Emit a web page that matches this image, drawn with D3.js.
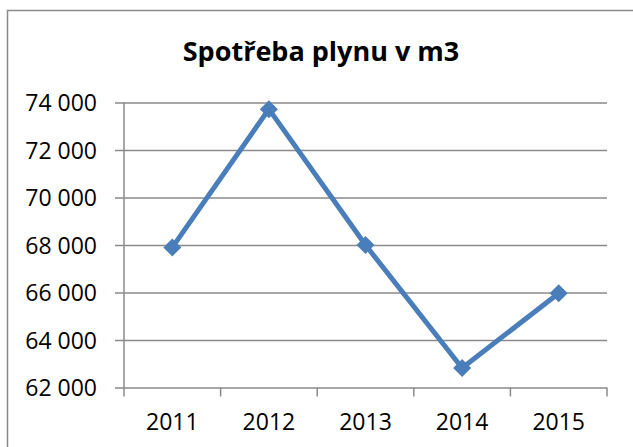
<!DOCTYPE html>
<html lang="cs">
<head>
  <meta charset="UTF-8">
  <title>Spotřeba plynu v m3</title>
  <script src="https://d3js.org/d3.v7.min.js"></script>
  <style>
    body { margin: 0; padding: 0; overflow: hidden; background: #fff; }
    text { font-family: "Open Sans", sans-serif; fill: #000; }
  </style>
</head>
<body>
  <svg id="chart" width="633" height="447"></svg>

  <script>
    // Data
    const years = ["2011", "2012", "2013", "2014", "2015"];
    const consumption = [67900, 73720, 68000, 62820, 65970];
    const yTicks = [62000, 64000, 66000, 68000, 70000, 72000, 74000];
    const title = "Spotřeba plynu v m3";

    const svg = d3.select("#chart");
    const plot = { left: 124, right: 607, top: 102.5, bottom: 387.5 };
    const gridColor = "#8a8a8a";
    const lineColor = "#4a7ebb";

    // Chart frame (only left and top edges are visible in the crop)
    svg.append("rect")
      .attr("x", 7.5).attr("y", 10.5)
      .attr("width", 700).attr("height", 500)
      .attr("fill", "none")
      .attr("stroke", gridColor)
      .attr("stroke-width", 1.5);

    // Scales
    const x = d3.scaleBand().domain(years).range([plot.left, plot.right]).padding(0);
    const y = d3.scaleLinear().domain([62000, 74000]).range([plot.bottom, plot.top]);

    const fmt = d3.formatLocale({ decimal: ",", thousands: "\u00a0", grouping: [3], currency: ["", " Kč"] }).format(",d");

    // Gridlines + y axis
    const yAxis = svg.append("g")
      .attr("transform", `translate(${plot.left},0)`)
      .call(d3.axisLeft(y).tickValues(yTicks).tickSize(0).tickFormat(fmt));
    yAxis.select(".domain").remove();
    yAxis.selectAll(".tick line").remove();
    yAxis.selectAll(".tick").append("line")
      .attr("x1", -9).attr("x2", plot.right - plot.left)
      .attr("stroke", gridColor).attr("stroke-width", 1.5);
    yAxis.selectAll(".tick text")
      .attr("x", -27)
      .attr("dy", "0.36em")
      .style("font-size", "23px")
      .style("font-family", "'Open Sans', sans-serif")
      .attr("fill", "#000");

    // Vertical axis line
    svg.append("line")
      .attr("x1", plot.left).attr("x2", plot.left)
      .attr("y1", plot.top).attr("y2", plot.bottom + 9)
      .attr("stroke", gridColor).attr("stroke-width", 1.5);

    // Category axis: ticks between categories
    const edges = years.map(d => x(d)).concat([x(years[years.length - 1]) + x.bandwidth()]);
    svg.append("g").selectAll("line")
      .data(edges.slice(1))
      .join("line")
      .attr("x1", d => d).attr("x2", d => d)
      .attr("y1", plot.bottom).attr("y2", plot.bottom + 9)
      .attr("stroke", gridColor).attr("stroke-width", 1.5);

    svg.append("g").selectAll("text")
      .data(years)
      .join("text")
      .attr("x", d => x(d) + x.bandwidth() / 2)
      .attr("y", 430)
      .attr("text-anchor", "middle")
      .style("font-size", "23px")
      .text(d => d);

    // Line
    const pts = years.map((d, i) => [x(d) + x.bandwidth() / 2, y(consumption[i])]);
    svg.append("path")
      .datum(pts)
      .attr("d", d3.line())
      .attr("fill", "none")
      .attr("stroke", lineColor)
      .attr("stroke-width", 5)
      .attr("stroke-linejoin", "round");

    // Diamond markers
    svg.append("g").selectAll("path")
      .data(pts)
      .join("path")
      .attr("transform", d => `translate(${d[0]},${d[1]})`)
      .attr("d", "M0,-9L9,0L0,9L-9,0Z")
      .attr("fill", lineColor);

    // Title
    svg.append("text")
      .attr("x", 321)
      .attr("y", 61)
      .attr("text-anchor", "middle")
      .style("font-size", "27px")
      .style("font-weight", "bold")
      .text(title);
  </script>
</body>
</html>
